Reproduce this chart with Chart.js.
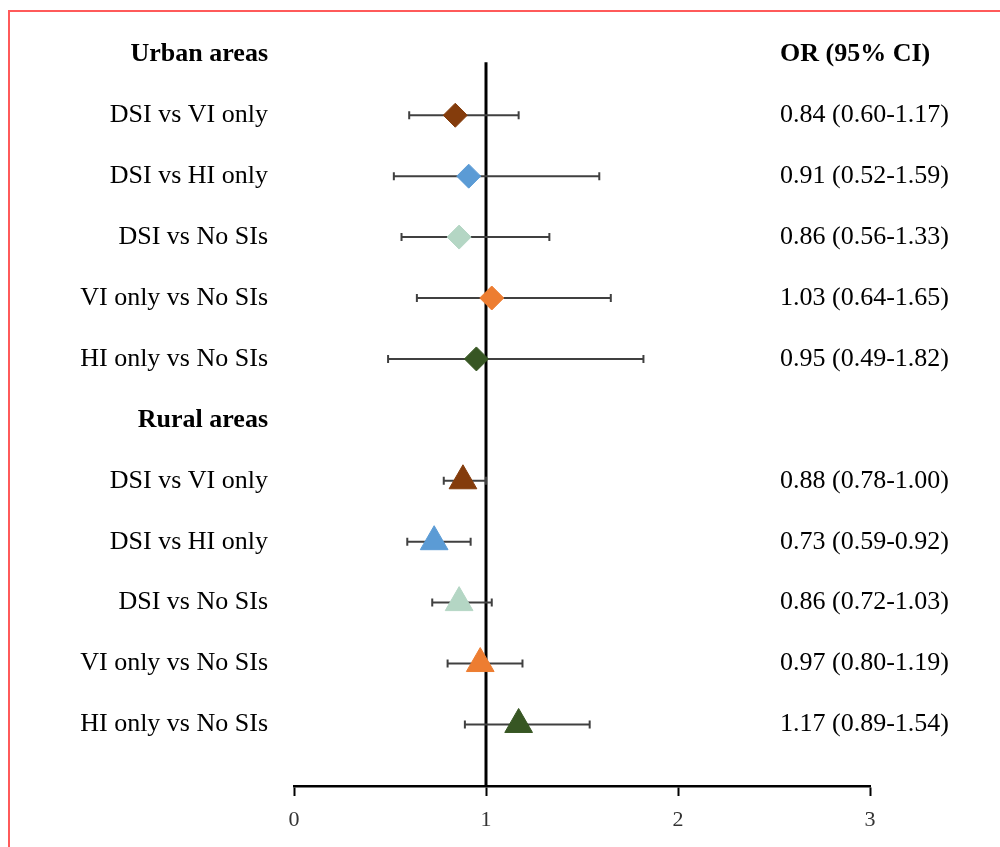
<!DOCTYPE html>
<html>
<head>
<meta charset="utf-8">
<script src="https://cdn.jsdelivr.net/npm/chart.js@4/dist/chart.umd.min.js"></script>
<style>
  html, body { margin: 0; padding: 0; background: #fff; }
  #wrap { position: relative; width: 1000px; height: 847px; overflow: hidden; }
  #frame { position: absolute; left: 8px; top: 10px; width: 1100px; height: 900px; border: 2px solid #ff5a5a; box-sizing: border-box; pointer-events: none; }
  canvas { position: absolute; left: 0; top: 0; }
</style>
</head>
<body>
<div id="wrap">
  <canvas id="forest" width="1000" height="847"></canvas>
  <div id="frame"></div>
</div>
<script>
// data
var comparisons = ['DSI vs VI only', 'DSI vs HI only', 'DSI vs No SIs', 'VI only vs No SIs', 'HI only vs No SIs'];
var urbanOR = [0.84, 0.91, 0.86, 1.03, 0.95];
var urbanLo = [0.60, 0.52, 0.56, 0.64, 0.49];
var urbanHi = [1.17, 1.59, 1.33, 1.65, 1.82];
var ruralOR = [0.88, 0.73, 0.86, 0.97, 1.17];
var ruralLo = [0.78, 0.59, 0.72, 0.80, 0.89];
var ruralHi = [1.00, 0.92, 1.03, 1.19, 1.54];
var xTicks = [0, 1, 2, 3];
var markerColors = ['#843C0C', '#5B9BD5', '#B4D6C4', '#ED7D31', '#375623'];

// row layout (0 = Urban header, 1-5 urban, 6 = Rural header, 7-11 rural)
var urbanRows = [1, 2, 3, 4, 5];
var ruralRows = [7, 8, 9, 10, 11];
var rowLabels = ['Urban areas'].concat(comparisons, ['Rural areas'], comparisons);
var headerRows = [0, 6];
var yMin = -0.34, yMax = 12.01, refLineTop = 0.13;

var serif = "'Liberation Serif', 'Times New Roman', serif";

function fmt(v) { return v.toFixed(2); }
function orText(or, lo, hi) { return fmt(or) + ' (' + fmt(lo) + '-' + fmt(hi) + ')'; }

var rightTexts = [{ row: 0, text: 'OR (95% CI)', bold: true }];
comparisons.forEach(function (c, i) {
  rightTexts.push({ row: urbanRows[i], text: orText(urbanOR[i], urbanLo[i], urbanHi[i]) });
  rightTexts.push({ row: ruralRows[i], text: orText(ruralOR[i], ruralLo[i], ruralHi[i]) });
});

var datasets = [];

// reference line at OR = 1
datasets.push({
  type: 'line',
  data: [{ x: 1, y: refLineTop }, { x: 1, y: yMax }],
  borderColor: '#000',
  borderWidth: 3,
  pointRadius: 0,
  order: 3
});

// error bars
function addBars(lo, hi, rows) {
  rows.forEach(function (r, i) {
    datasets.push({
      type: 'line',
      data: [{ x: lo[i], y: r }, { x: hi[i], y: r }],
      borderColor: '#404040',
      borderWidth: 2,
      pointStyle: 'line',
      pointRotation: 90,
      pointRadius: 4,
      pointBorderWidth: 2,
      pointBorderColor: '#404040',
      order: 2
    });
  });
}
addBars(urbanLo, urbanHi, urbanRows);
addBars(ruralLo, ruralHi, ruralRows);

// point estimates
datasets.push({
  type: 'scatter',
  data: urbanOR.map(function (v, i) { return { x: v, y: urbanRows[i] }; }),
  pointStyle: 'rectRot',
  pointRadius: 12,
  backgroundColor: markerColors,
  borderColor: markerColors,
  borderWidth: 1,
  order: 1
});
datasets.push({
  type: 'scatter',
  data: ruralOR.map(function (v, i) { return { x: v, y: ruralRows[i] }; }),
  pointStyle: 'triangle',
  pointRadius: 16,
  backgroundColor: markerColors,
  borderColor: markerColors,
  borderWidth: 1,
  order: 1
});

// OR (95% CI) column on the right
var orColumn = {
  id: 'orColumn',
  afterDraw: function (chart) {
    var ctx = chart.ctx;
    var y = chart.scales.y;
    ctx.save();
    ctx.fillStyle = '#000';
    ctx.textAlign = 'left';
    ctx.textBaseline = 'middle';
    rightTexts.forEach(function (t) {
      ctx.font = (t.bold ? 'bold ' : '') + '26px ' + serif;
      ctx.fillText(t.text, 780, y.getPixelForValue(t.row));
    });
    ctx.restore();
  }
};

new Chart(document.getElementById('forest'), {
  type: 'scatter',
  data: { datasets: datasets },
  options: {
    responsive: false,
    animation: false,
    events: [],
    layout: { padding: { left: 0, right: 130, top: 28, bottom: 0 } },
    plugins: { legend: { display: false }, tooltip: { enabled: false } },
    scales: {
      x: {
        type: 'linear',
        min: 0,
        max: 3,
        afterBuildTicks: function (scale) {
          scale.ticks = xTicks.map(function (v) { return { value: v }; });
        },
        afterFit: function (scale) { scale.height = 61; },
        grid: { drawOnChartArea: false, drawTicks: true, tickLength: 10, tickColor: '#000', tickWidth: 2 },
        border: { color: '#000', width: 2.5 },
        ticks: { color: '#333', font: { family: serif, size: 22 }, padding: 11 }
      },
      y: {
        type: 'linear',
        reverse: true,
        min: yMin,
        max: yMax,
        afterBuildTicks: function (scale) {
          scale.ticks = rowLabels.map(function (l, i) { return { value: i }; });
        },
        afterFit: function (scale) { scale.width = 294; },
        grid: { display: false },
        border: { display: false },
        ticks: {
          autoSkip: false,
          color: '#000',
          padding: 18,
          callback: function (v) { return rowLabels[v]; },
          font: function (c) {
            var bold = c.tick && headerRows.indexOf(c.tick.value) >= 0;
            return { family: serif, size: 26, weight: bold ? 'bold' : 'normal' };
          }
        }
      }
    }
  },
  plugins: [orColumn]
});
</script>
</body>
</html>
